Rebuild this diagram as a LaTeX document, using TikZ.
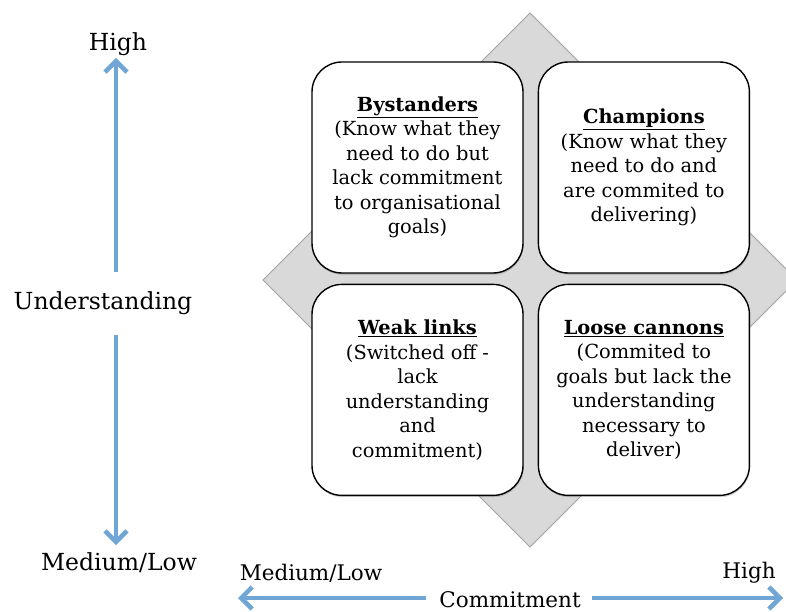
\documentclass[tikz,border=0pt]{standalone}
\usepackage{fontspec}
\setmainfont{DejaVu Serif}
\usetikzlibrary{arrows.meta, positioning, shadows}
\definecolor{axisblue}{RGB}{112,166,214}
\definecolor{backgrey}{RGB}{217,217,217}
\definecolor{edgegrey}{RGB}{160,160,160}

\begin{document}
\begin{tikzpicture}[
  x=1pt, y=-1pt,
  node distance = 10pt and 14pt,
  quad/.style = {draw, line width=1.4pt, fill=white, rounded corners=30pt, align=center,
    minimum width=211pt, minimum height=211pt, inner sep=0pt, font=\fontsize{19.4}{24.5}\selectfont,
    drop shadow={shadow xshift=0.6pt, shadow yshift=-1.8pt, opacity=0.35}},
  axislabel/.style = {inner sep=0pt, font=\fontsize{21.5}{25}\selectfont},
  sidelabel/.style = {axislabel, font=\fontsize{23.5}{27}\selectfont},
  axis/.style = {draw=axisblue, line width=4.5pt, -{Straight Barb[length=11pt,width=22pt]}}
]
\useasboundingbox (0,0) rectangle (786,612);

% grey square behind the grid
\begin{scope}
  \clip (0,0) rectangle (786,612);
  \coordinate (mid) at (530,280);
  \filldraw[fill=backgrey, draw=edgegrey, line width=1pt]
    (mid) ++(-267,0) -- ++(267,-267) -- ++(267,267) -- ++(-267,267) -- cycle;
\end{scope}

% the four quadrants
\node[quad] (by) at (417.5,167.5)
  {\underline{\textbf{Bystanders}}\\(Know what they\\need to do but\\lack commitment\\to organisational\\goals)};
\node[quad, right=of by] (ch)
  {\underline{\textbf{Champions}}\\(Know what they\\need to do and\\are commited to\\delivering)};
\node[quad, below=of by] (wl)
  {\underline{\textbf{Weak links}}\\(Switched off -\\lack\\understanding\\and\\commitment)};
\node[quad, below=of ch] (lc)
  {\underline{\textbf{Loose cannons}}\\(Commited to\\goals but lack the\\understanding\\necessary to\\deliver)};

% understanding axis
\node[sidelabel] (uhigh) at (118,44) {High};
\node[sidelabel] (under) at (103,303) {Understanding};
\node[sidelabel] (ulow) at (119,563) {Medium/Low};
\coordinate (u1) at (116,272);
\coordinate (u2) at (116,58);
\coordinate (u3) at (116,335);
\coordinate (u4) at (116,545);
\draw[axis] (u1) -- (u2);
\draw[axis] (u3) -- (u4);

% commitment axis
\node[axislabel] (clow) at (311,573) {Medium/Low};
\node[axislabel] (chigh) at (749,573) {High};
\node[axislabel] (commit) at (510,600) {Commitment};
\coordinate (c1) at (426,598);
\coordinate (c2) at (238,598);
\coordinate (c3) at (592,598);
\coordinate (c4) at (783,598);
\draw[axis] (c1) -- (c2);
\draw[axis] (c3) -- (c4);
\end{tikzpicture}
\end{document}
